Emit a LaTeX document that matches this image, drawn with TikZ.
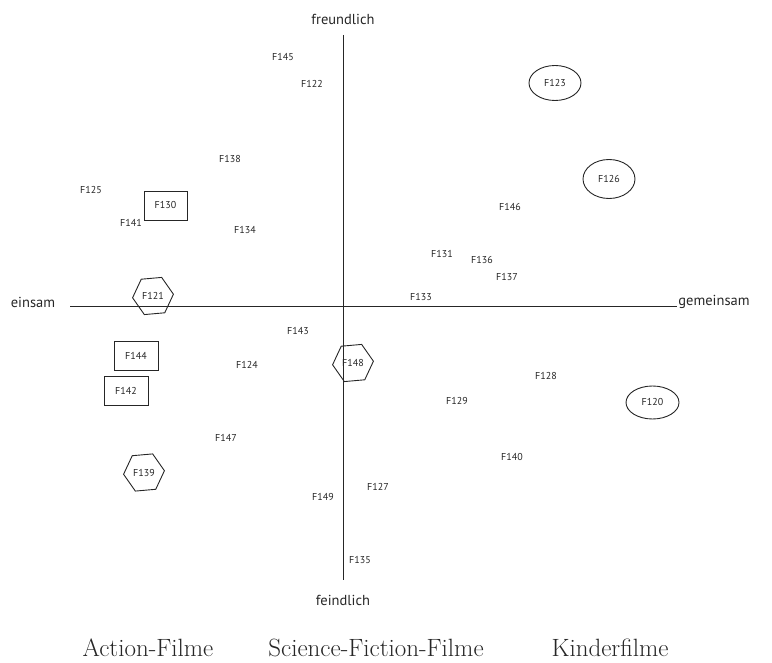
\documentclass[tikz,border=0pt]{standalone}
\usepackage{fontspec}
\setsansfont{PT Sans}
\usetikzlibrary{shapes.geometric}

\begin{document}
\begin{tikzpicture}[x=1pt,y=-1pt,
  lbl/.style={font=\sffamily\fontsize{10}{12}\selectfont, text=black!85, inner sep=1pt},
  axlbl/.style={font=\sffamily\fontsize{14.5}{17}\selectfont, text=black!85},
  boxed/.style={lbl, draw=black!85, line width=0.9pt, minimum width=43pt, minimum height=29pt},
  hexa/.style={lbl, draw=black!85, line width=0.9pt, regular polygon, regular polygon sides=6, minimum size=41pt, shape border rotate=5},
  oval/.style={lbl, draw=black!85, ellipse, line width=0.9pt, minimum width=52pt, minimum height=35pt},
  genre/.style={font=\fontsize{25}{29}\selectfont, text=black!85, anchor=base, inner sep=0pt}]
  \useasboundingbox (0,0) rectangle (772,663);
  % axes
  \coordinate (W) at (70,306);
  \coordinate (E) at (677,306);
  \coordinate (N) at (343,35);
  \coordinate (S) at (343,580);
  \draw[line width=0.8pt, black!85] (W) -- (E);
  \draw[line width=0.8pt, black!85] (N) -- (S);
  \node[axlbl] (friendly) at (343,19) {freundlich};
  \node[axlbl] (hostile) at (343,600) {feindlich};
  \node[axlbl] (lonely) at (33,302) {einsam};
  \node[axlbl] (together) at (714,302) {gemeinsam};
  % films
  \node[lbl] (F145) at (283,57) {F145};
  \node[lbl] (F122) at (312,84) {F122};
  \node[oval] (F123) at (555,83) {F123};
  \node[lbl] (F138) at (230,159) {F138};
  \node[lbl] (F125) at (91,190) {F125};
  \node[boxed] (F130) at (165.5,205.5) {F130};
  \node[oval, minimum height=39pt] (F126) at (609,179) {F126};
  \node[lbl] (F146) at (510,207) {F146};
  \node[lbl] (F141) at (131,223) {F141};
  \node[lbl] (F134) at (245,230) {F134};
  \node[lbl] (F131) at (442,254) {F131};
  \node[lbl] (F136) at (482,260) {F136};
  \node[lbl] (F137) at (507,277) {F137};
  \node[hexa] (F121) at (153,296) {F121};
  \node[lbl] (F133) at (421,297) {F133};
  \node[lbl] (F143) at (298,331) {F143};
  \node[boxed, minimum width=44pt] (F144) at (136,355.5) {F144};
  \node[hexa] (F148) at (353,363) {F148};
  \node[lbl] (F124) at (247,365) {F124};
  \node[lbl] (F128) at (546,376) {F128};
  \node[boxed, minimum width=44pt] (F142) at (126,390.5) {F142};
  \node[oval, minimum width=53pt, minimum height=33pt] (F120) at (652.5,402.5) {F120};
  \node[lbl] (F129) at (457,401) {F129};
  \node[lbl] (F147) at (226,438) {F147};
  \node[lbl] (F140) at (512,457) {F140};
  \node[hexa] (F139) at (144,472.5) {F139};
  \node[lbl] (F127) at (378,487) {F127};
  \node[lbl] (F149) at (323,497) {F149};
  \node[lbl] (F135) at (360,560) {F135};
  % genres
  \node[genre] (action) at (148,656) {Action-Filme};
  \node[genre] (scifi) at (376,656) {Science-Fiction-Filme};
  \node[genre] (kids) at (610,656) {Kinderfilme};
\end{tikzpicture}
\end{document}
